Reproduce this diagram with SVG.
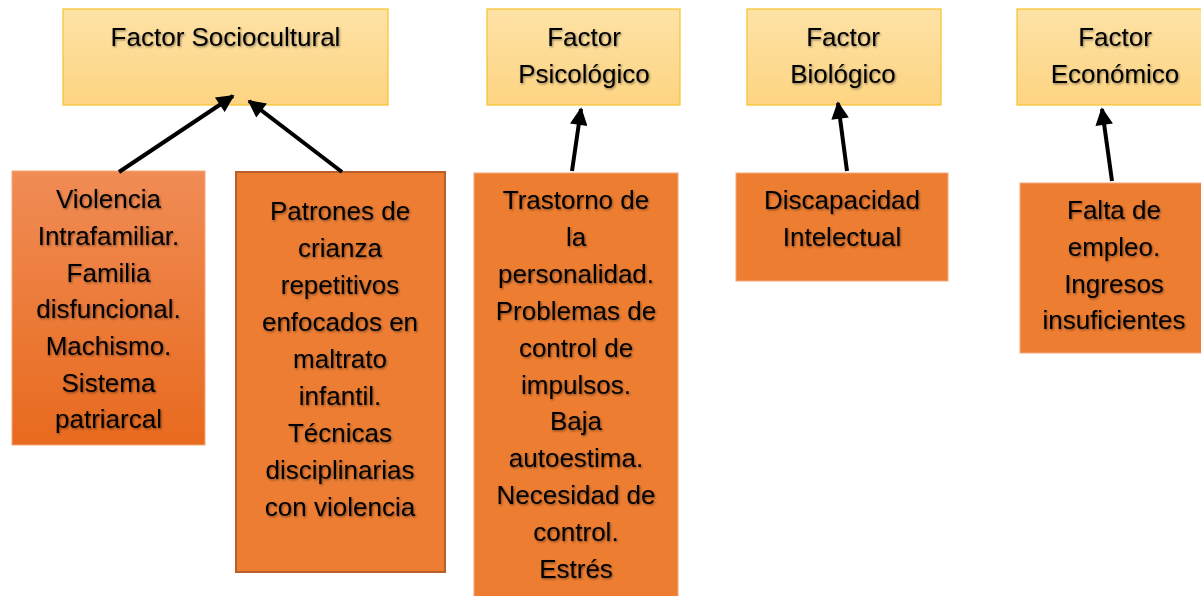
<svg xmlns="http://www.w3.org/2000/svg" width="1201" height="596" viewBox="0 0 1201 596">
<defs>
<linearGradient id="gTop" x1="0" y1="0" x2="0" y2="1">
<stop offset="0" stop-color="#fee2a6"/>
<stop offset="1" stop-color="#fdd482"/>
</linearGradient>
<linearGradient id="gOr1" x1="0" y1="0" x2="0" y2="1">
<stop offset="0" stop-color="#f08c55"/>
<stop offset="1" stop-color="#e86a1e"/>
</linearGradient>
<filter id="sh" x="-10%" y="-10%" width="120%" height="130%">
<feDropShadow dx="1" dy="1.2" stdDeviation="0.9" flood-color="#000" flood-opacity="0.45"/>
</filter>
<marker id="ah" viewBox="0 0 10 10" refX="9" refY="5" markerWidth="5" markerHeight="4.4" orient="auto" markerUnits="strokeWidth">
<path d="M0,0 L10,5 L0,10 z" fill="#000"/>
</marker>
</defs>
<style>
.top{fill:url(#gTop);stroke:#f8c22c;stroke-width:1.2}
.or{fill:#ed7d31;stroke:#f4a878;stroke-width:1}
.or2{fill:#ec7d33;stroke:#b8602a;stroke-width:2}
.t{font-family:"Liberation Sans",Arial,sans-serif;font-size:26px;fill:#000;text-anchor:middle;filter:url(#sh)}
.c{stroke:#000;stroke-width:4;fill:none;marker-end:url(#ah)}
</style>
<rect width="1201" height="596" fill="#fff"/>

<g id="n-sociocultural">
<rect class="top" x="63" y="9" width="325" height="96"/>
<text class="t" x="225.5" y="46">Factor Sociocultural</text>
</g>
<g id="n-psicologico">
<rect class="top" x="487" y="9" width="193" height="96"/>
<text class="t" x="584" y="46">Factor</text>
<text class="t" x="584" y="83">Psicológico</text>
</g>
<g id="n-biologico">
<rect class="top" x="747" y="9" width="194" height="96"/>
<text class="t" x="843" y="46">Factor</text>
<text class="t" x="843" y="83">Biológico</text>
</g>
<g id="n-economico">
<rect class="top" x="1017" y="9" width="196" height="96"/>
<text class="t" x="1115" y="46">Factor</text>
<text class="t" x="1115" y="83">Económico</text>
</g>

<g id="n-violencia">
<rect x="12" y="171" width="193" height="274" fill="url(#gOr1)" stroke="#f4a878" stroke-width="1"/>
<text class="t" x="108.5" y="208">Violencia</text>
<text class="t" x="108.5" y="245">Intrafamiliar.</text>
<text class="t" x="108.5" y="282">Familia</text>
<text class="t" x="108.5" y="318">disfuncional.</text>
<text class="t" x="108.5" y="355">Machismo.</text>
<text class="t" x="108.5" y="392">Sistema</text>
<text class="t" x="108.5" y="428">patriarcal</text>
</g>
<g id="n-patrones">
<rect class="or2" x="236" y="172" width="209" height="400"/>
<text class="t" x="340" y="220">Patrones de</text>
<text class="t" x="340" y="257">crianza</text>
<text class="t" x="340" y="294">repetitivos</text>
<text class="t" x="340" y="331">enfocados en</text>
<text class="t" x="340" y="368">maltrato</text>
<text class="t" x="340" y="405">infantil.</text>
<text class="t" x="340" y="442">Técnicas</text>
<text class="t" x="340" y="479">disciplinarias</text>
<text class="t" x="340" y="516">con violencia</text>
</g>
<g id="n-trastorno">
<rect class="or" x="474" y="173" width="204" height="430"/>
<text class="t" x="576" y="209">Trastorno de</text>
<text class="t" x="576" y="246">la</text>
<text class="t" x="576" y="283">personalidad.</text>
<text class="t" x="576" y="320">Problemas de</text>
<text class="t" x="576" y="357">control de</text>
<text class="t" x="576" y="394">impulsos.</text>
<text class="t" x="576" y="430">Baja</text>
<text class="t" x="576" y="467">autoestima.</text>
<text class="t" x="576" y="504">Necesidad de</text>
<text class="t" x="576" y="541">control.</text>
<text class="t" x="576" y="578">Estrés</text>
</g>
<g id="n-discapacidad">
<rect class="or" x="736" y="173" width="212" height="108"/>
<text class="t" x="842" y="209">Discapacidad</text>
<text class="t" x="842" y="246">Intelectual</text>
</g>
<g id="n-falta">
<rect class="or" x="1020" y="183" width="190" height="170"/>
<text class="t" x="1114" y="219">Falta de</text>
<text class="t" x="1114" y="256">empleo.</text>
<text class="t" x="1114" y="293">Ingresos</text>
<text class="t" x="1114" y="329">insuficientes</text>
</g>

<g id="connectors">
<line class="c" x1="119" y1="172" x2="233" y2="96"/>
<line class="c" x1="342" y1="172" x2="249" y2="101"/>
<line class="c" x1="572" y1="171" x2="581" y2="109"/>
<line class="c" x1="847" y1="171" x2="838" y2="103"/>
<line class="c" x1="1112" y1="181" x2="1102" y2="109"/>
</g>
</svg>
